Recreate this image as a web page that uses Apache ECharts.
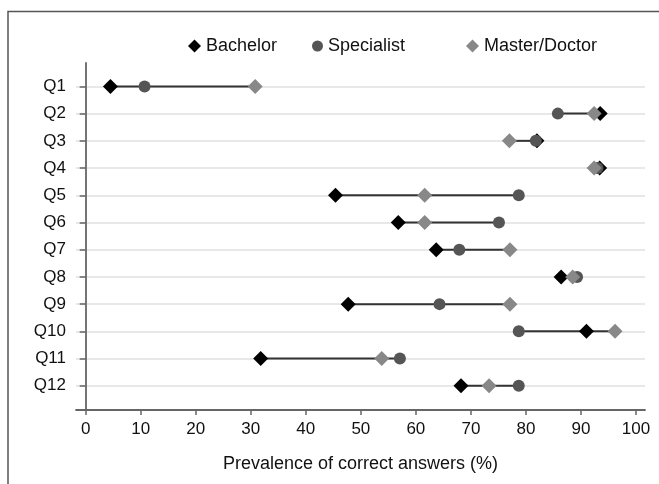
<!DOCTYPE html>
<html>
<head>
<meta charset="utf-8">
<script src="https://cdn.jsdelivr.net/npm/echarts@6/dist/echarts.min.js"></script>
<style>html,body{margin:0;padding:0;background:#fff}#chart{width:659px;height:484px}</style>
</head>
<body>
<div id="chart"></div>
<script>
var questions = ['Q1','Q2','Q3','Q4','Q5','Q6','Q7','Q8','Q9','Q10','Q11','Q12'];
var bachelor   = [4.5, 93.5, 82.0, 93.4, 45.4, 56.8, 63.7, 86.4, 47.7, 91.0, 31.8, 68.2];
var specialist = [10.7, 85.8, 81.8, 93.0, 78.7, 75.1, 67.9, 89.3, 64.3, 78.7, 57.1, 78.7];
var master     = [30.8, 92.4, 77.0, 92.4, 61.6, 61.6, 77.1, 88.5, 77.1, 96.2, 53.8, 73.3];
var xTicks = [0,10,20,30,40,50,60,70,80,90,100];
var seriesNames = ['Bachelor','Specialist','Master/Doctor'];

var font = 'Liberation Sans, Arial, sans-serif';
var rowIdx = questions.map(function(q,i){return i+1;});
function pts(arr){ return arr.map(function(v,i){ return [v, i+1]; }); }
var ranges = questions.map(function(q,i){
  var a=[bachelor[i],specialist[i],master[i]];
  return [Math.min.apply(null,a), Math.max.apply(null,a), i+1];
});

var chart = echarts.init(document.getElementById('chart'));
chart.setOption({
  animation:false,
  backgroundColor:'#fff',
  graphic:[{type:'polyline', shape:{points:[[8,490],[8,11.5],[665,11.5]]}, style:{stroke:'#555', lineWidth:1.5, fill:null}, z:100}],
  legend:[
    {data:[{name:seriesNames[0], icon:'diamond'}], left:188, top:37, padding:0, itemWidth:13, itemHeight:13, textStyle:{fontFamily:font, fontSize:18, color:'#111'}},
    {data:[{name:seriesNames[1], icon:'circle'}], left:312, top:37, padding:0, itemWidth:11, itemHeight:11, textStyle:{fontFamily:font, fontSize:18, color:'#111'}},
    {data:[{name:seriesNames[2], icon:'diamond'}], left:466, top:37, padding:0, itemWidth:13, itemHeight:13, textStyle:{fontFamily:font, fontSize:18, color:'#111'}}
  ],
  grid:{left:76, right:14, top:63, bottom:74, containLabel:false},
  xAxis:{
    type:'value', min:-1.76, max:101.64,
    name:'Prevalence of correct answers (%)', nameLocation:'middle', nameGap:45,
    nameTextStyle:{fontFamily:font, fontSize:18, color:'#111'},
    axisLine:{show:true, lineStyle:{color:'#666', width:1.8}},
    axisTick:{show:true, customValues:xTicks, length:5, lineStyle:{color:'#666', width:1.5}},
    axisLabel:{customValues:xTicks, fontFamily:font, fontSize:17, color:'#111', margin:11},
    splitLine:{show:false}
  },
  yAxis:{
    type:'value', inverse:true, min:0.14, max:12.89,
    axisLine:{show:true, lineStyle:{color:'#666', width:1.8}},
    axisTick:{show:true, customValues:rowIdx, length:6, lineStyle:{color:'#666', width:1.5}},
    axisLabel:{customValues:rowIdx, fontFamily:font, fontSize:17, color:'#111', margin:10,
      formatter:function(v){ return questions[Math.round(v)-1] || ''; }},
    splitLine:{show:true, lineStyle:{color:'#e0e0e0', width:1.5}}
  },
  series:[
    {type:'custom', name:'range', silent:true, z:1,
     renderItem:function(params, api){
       var p1 = api.coord([api.value(0), api.value(2)]);
       var p2 = api.coord([api.value(1), api.value(2)]);
       return {type:'line', shape:{x1:p1[0],y1:p1[1],x2:p2[0],y2:p2[1]}, style:{stroke:'#333', lineWidth:2}};
     },
     encode:{x:[0,1], y:2},
     data:ranges},
    {type:'scatter', name:seriesNames[0], symbol:'diamond', symbolSize:15, z:2, itemStyle:{color:'#000', opacity:1}, data:pts(bachelor)},
    {type:'scatter', name:seriesNames[1], symbol:'circle', symbolSize:12, z:3, itemStyle:{color:'#555', opacity:1}, data:pts(specialist)},
    {type:'scatter', name:seriesNames[2], symbol:'diamond', symbolSize:15, z:4, itemStyle:{color:'#888', opacity:1}, data:pts(master)}
  ]
});
</script>
</body>
</html>
